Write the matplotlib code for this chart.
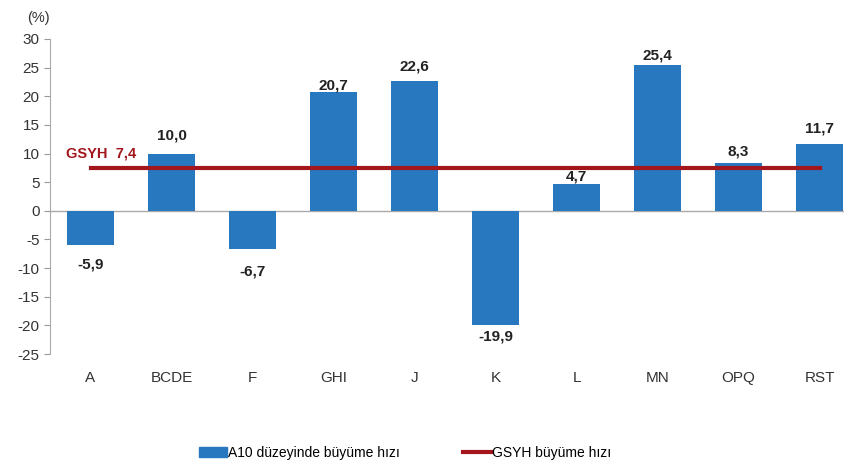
import matplotlib.pyplot as plt
import numpy as np
from matplotlib.lines import Line2D
from matplotlib.patches import Patch

categories = ['A', 'BCDE', 'F', 'GHI', 'J', 'K', 'L', 'MN', 'OPQ', 'RST']
growth = [-5.9, 10.0, -6.7, 20.7, 22.6, -19.9, 4.7, 25.4, 8.3, 11.7]
gdp_growth = 7.4

# gap between bar end and its value label (pixels), as placed in the original
label_gap = [13, 11, 15, 0, 8, 5, 0, 3, 5, 8]

bar_color = '#2878C0'
line_color = '#A3161C'

plt.rcParams['font.family'] = ['Liberation Sans', 'DejaVu Sans']
plt.rcParams['axes.unicode_minus'] = False

fig = plt.figure(figsize=(8.44, 4.68), dpi=100)
ax = fig.add_axes([50 / 844, 1 - 354 / 468, 1 - 50 / 844, (354 - 39) / 468])

x = np.arange(len(categories))
ax.bar(x, growth, width=0.58, color=bar_color, zorder=2)
ax.plot([x[0], x[-1]], [gdp_growth, gdp_growth], color=line_color, lw=3, zorder=4)

# value labels
for xi, v, gap in zip(x, growth, label_gap):
    label = f'{v:.1f}'.replace('.', ',')
    pts = gap * 0.72
    if v >= 0:
        ax.annotate(label, (xi, v), xytext=(0, pts), textcoords='offset points',
                    ha='center', va='bottom', fontsize=11, fontweight='bold',
                    color='#222222', zorder=3)
    else:
        ax.annotate(label, (xi, v), xytext=(0, -pts), textcoords='offset points',
                    ha='center', va='top', fontsize=11, fontweight='bold',
                    color='#222222', zorder=3)

ax.text(-0.3, gdp_growth + 1.4, 'GSYH  7,4', ha='left', va='bottom', fontsize=10.5,
        fontweight='bold', color=line_color)

ax.set_ylim(-25, 30)
ax.set_xlim(-0.5, -0.5 + 794 / 81)
ax.set_yticks(range(-25, 31, 5))
ax.tick_params(axis='y', labelsize=11, colors='#333333', length=4, color='#999999')
ax.set_xticks(x)
ax.set_xticklabels(categories)
ax.tick_params(axis='x', length=0, labelsize=11, colors='#333333', pad=12)
ax.axhline(0, color='#aaaaaa', lw=1, zorder=1)

for s in ['top', 'right', 'bottom']:
    ax.spines[s].set_visible(False)
ax.spines['left'].set_color('#aaaaaa')

fig.text(38 / 844, 1 - 18 / 468, '(%)', ha='center', va='center', fontsize=10.5, color='#333333')

handles = [Patch(color=bar_color), Line2D([0], [0], color=line_color, lw=3)]
fig.legend(handles, ['A10 düzeyinde büyüme hızı', 'GSYH büyüme hızı'], loc='center',
           bbox_to_anchor=(0.48, 1 - 453 / 468), ncol=2, frameon=False, fontsize=10,
           handlelength=2.0, handletextpad=0.05, columnspacing=4.6)

fig.savefig('out.png', dpi=100)
